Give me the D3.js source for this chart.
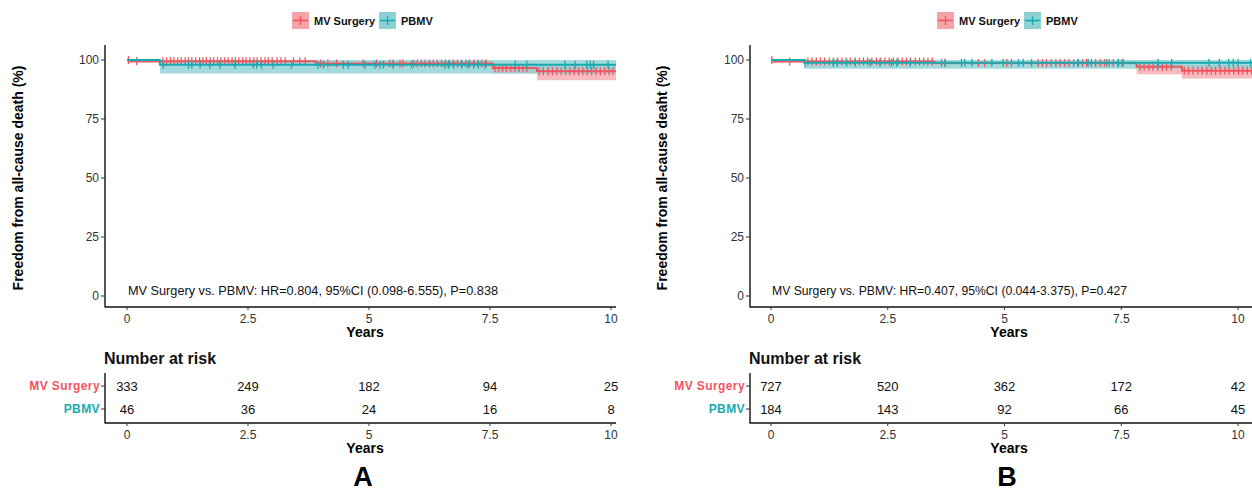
<!DOCTYPE html>
<html><head><meta charset="utf-8">
<script src="https://cdn.jsdelivr.net/npm/d3@7"></script>
<style>
body{margin:0;background:#fff;}
text{font-family:"Liberation Sans",Arial,Helvetica,sans-serif;}
</style></head>
<body><svg id="chart" width="1252" height="491"></svg>
<script>
// ---------- data ----------
const groups = ["MV Surgery", "PBMV"];
const xTicks = [0, 2.5, 5, 7.5, 10];
const xTickLabels = ["0", "2.5", "5", "7.5", "10"];
const yTicks = [0, 25, 50, 75, 100];

// Panel A
const aMvTime = [0, 0.05, 3.9, 7.56, 8.47];
const aMvSurv = [100, 99.5, 98.5, 96.6, 95.2];
const aMvLow  = [100, 98.8, 97.4, 94.3, 91.4];
const aMvHigh = [100, 100, 99.6, 98.8, 98.3];
const aPbTime = [0, 0.68];
const aPbSurv = [100, 98.0];
const aPbLow  = [99.0, 94.3];
const aPbHigh = [100, 100];
const aMvCensor = [0.03, 0.2, 0.74, 0.82, 0.9, 0.97, 1.05, 1.12, 1.2, 1.27, 1.34, 1.42, 1.5, 1.57, 1.64, 1.72, 1.79, 1.87, 1.94, 2.02, 2.09, 2.17, 2.24, 2.31, 2.39, 2.46, 2.54, 2.62, 2.69, 2.77, 2.85, 2.92, 3.0, 3.1, 3.18, 3.27, 3.44, 3.57, 3.68, 4.0, 4.15, 4.33, 4.88, 5.16, 5.43, 5.5, 5.64, 5.7, 5.92, 6.0, 6.08, 6.16, 6.25, 6.33, 6.41, 6.5, 6.58, 6.66, 6.74, 6.83, 6.91, 7.0, 7.08, 7.17, 7.25, 7.33, 7.42, 7.6, 7.68, 7.76, 7.84, 7.93, 8.01, 8.1, 8.18, 8.26, 8.52, 8.6, 8.7, 8.79, 8.88, 8.97, 9.06, 9.15, 9.24, 9.33, 9.42, 9.51, 9.6, 9.69, 9.78, 9.87, 9.96, 10.04];
const aPbCensor = [0.75, 1.27, 1.34, 1.51, 1.71, 1.92, 2.23, 2.61, 2.68, 2.78, 3.02, 3.4, 3.95, 4.06, 4.47, 4.57, 4.92, 5.12, 5.23, 5.3, 5.5, 5.88, 6.57, 6.64, 6.75, 6.92, 7.05, 7.16, 7.26, 7.4, 8.02, 8.26, 9.05, 9.26, 9.5, 9.57, 9.64, 9.94];
const aRiskMv = [333, 249, 182, 94, 25];
const aRiskPb = [46, 36, 24, 16, 8];
const aNote = "MV Surgery vs. PBMV: HR=0.804, 95%CI (0.098-6.555), P=0.838";
const aYLabel = "Freedom from all-cause death (%)";

// Panel B
const bMvTime = [0, 0.05, 3.5, 7.83, 8.8];
const bMvSurv = [100, 99.4, 98.7, 97.1, 95.4];
const bMvLow  = [100, 98.9, 97.9, 94.0, 92.2];
const bMvHigh = [100, 99.9, 99.4, 98.6, 97.9];
const bPbTime = [0, 0.71];
const bPbSurv = [100, 98.8];
const bPbLow  = [99.2, 96.3];
const bPbHigh = [100, 100];
const bMvCensor = [0.02, 0.4, 0.79, 0.88, 0.97, 1.06, 1.15, 1.25, 1.34, 1.43, 1.52, 1.61, 1.7, 1.8, 1.89, 1.98, 2.07, 2.16, 2.26, 2.35, 2.44, 2.53, 2.62, 2.72, 2.81, 2.9, 2.99, 3.09, 3.18, 3.27, 3.36, 3.45, 3.65, 3.73, 4.44, 4.58, 5.05, 5.15, 5.72, 5.81, 5.9, 6.0, 6.1, 6.19, 6.29, 6.38, 6.48, 6.57, 6.67, 6.76, 6.86, 6.95, 7.05, 7.14, 7.24, 7.33, 7.43, 7.52, 7.9, 7.99, 8.09, 8.18, 8.28, 8.38, 8.47, 8.57, 8.85, 8.94, 9.04, 9.14, 9.23, 9.33, 9.43, 9.52, 9.62, 9.72, 9.81, 9.91, 10.01, 10.1, 10.2, 10.29];
const bPbCensor = [0.73, 1.33, 1.41, 1.62, 1.8, 2.12, 2.33, 2.58, 2.69, 2.98, 3.73, 4.08, 4.15, 4.3, 4.73, 4.97, 5.3, 5.4, 5.58, 6.58, 6.79, 7.19, 7.44, 7.54, 8.29, 8.58, 9.38, 9.6, 9.8, 9.9, 10.0, 10.27];
const bRiskMv = [727, 520, 362, 172, 42];
const bRiskPb = [184, 143, 92, 66, 45];
const bNote = "MV Surgery vs. PBMV: HR=0.407, 95%CI (0.044-3.375), P=0.427";
const bYLabel = "Freedom from all-cause deaht (%)";

// ---------- style ----------
const RED = "#F2545F", TEAL = "#17ABB0";
const RED_BAND = "#F4A3A8", TEAL_BAND = "#8CD1D4";
const svg = d3.select("#chart");

function drawPanel(p) {
  const g = svg.append("g");
  const x = d3.scaleLinear().domain([0, 10]).range([p.x0, p.x10]);
  const y = d3.scaleLinear().domain([0, 100]).range([296, 60]);
  const axL = p.axisLeft, axR = p.axisRight;
  const clipId = "clip" + p.id;
  svg.append("clipPath").attr("id", clipId).append("rect")
    .attr("x", axL + 1).attr("y", 40).attr("width", axR - axL - 1).attr("height", 266);
  const plot = g.append("g").attr("clip-path", `url(#${clipId})`);
  const tEnd = x.invert(axR + 5);

  function series(times, s, lo, hi, censor, color, band, bandOp) {
    const rows = times.map((t, i) => ({t, s: s[i], lo: lo[i], hi: hi[i]}));
    rows.push({t: tEnd, s: s[s.length - 1], lo: lo[lo.length - 1], hi: hi[hi.length - 1]});
    plot.append("path").datum(rows)
      .attr("d", d3.area().curve(d3.curveStepAfter).x(d => x(d.t)).y0(d => y(d.lo)).y1(d => y(d.hi)))
      .attr("fill", band).attr("fill-opacity", bandOp);
    return {rows, color, censor};
  }
  function lineOf(sr) {
    plot.append("path").datum(sr.rows)
      .attr("d", d3.line().curve(d3.curveStepAfter).x(d => x(d.t)).y(d => y(d.s)))
      .attr("fill", "none").attr("stroke", sr.color).attr("stroke-width", 2);
    const bis = d3.bisector(d => d.t).right;
    plot.selectAll(null).data(sr.censor).enter().append("line")
      .attr("x1", d => x(d)).attr("x2", d => x(d))
      .attr("y1", d => y(sr.rows[Math.max(0, bis(sr.rows, d) - 1)].s) - 4)
      .attr("y2", d => y(sr.rows[Math.max(0, bis(sr.rows, d) - 1)].s) + 4)
      .attr("stroke", sr.color).attr("stroke-width", 1.3);
  }
  const sMv = series(p.mvT, p.mvS, p.mvLo, p.mvHi, p.mvC, RED, RED_BAND, 0.75);
  const sPb = series(p.pbT, p.pbS, p.pbLo, p.pbHi, p.pbC, TEAL, TEAL_BAND, 0.8);
  lineOf(sMv);
  lineOf(sPb);

  // axes main
  const ax = g.append("g").attr("stroke", "#111");
  ax.append("line").attr("x1", axL).attr("x2", axL).attr("y1", 45).attr("y2", 307.5).attr("stroke-width", 1.4);
  ax.append("line").attr("x1", axL).attr("x2", axR).attr("y1", 307).attr("y2", 307).attr("stroke-width", 1.4);
  yTicks.forEach(v => {
    g.append("line").attr("x1", axL - 4).attr("x2", axL).attr("y1", y(v)).attr("y2", y(v)).attr("stroke", "#333");
    g.append("text").attr("x", axL - 6).attr("y", y(v)).attr("dy", "0.35em").attr("text-anchor", "end")
      .attr("font-size", 12).attr("fill", "#333").text(v);
  });
  xTicks.forEach((v, i) => {
    g.append("line").attr("x1", x(v)).attr("x2", x(v)).attr("y1", 307).attr("y2", 310).attr("stroke", "#333");
    g.append("text").attr("x", x(v)).attr("y", 318.5).attr("dy", "0.35em").attr("text-anchor", "middle")
      .attr("font-size", 12).attr("fill", "#333").text(xTickLabels[i]);
  });
  g.append("text").attr("x", p.midX).attr("y", 332).attr("dy", "0.35em").attr("text-anchor", "middle")
    .attr("font-size", 14).attr("font-weight", "bold").text("Years");
  g.append("text").attr("transform", `translate(${p.yLabX},178) rotate(-90)`).attr("text-anchor", "middle")
    .attr("dy", "0.35em").attr("font-size", 14).attr("font-weight", "bold").text(p.yLab);
  g.append("text").attr("x", x(0) + 1).attr("y", 290).attr("dy", "0.35em").attr("font-size", 13)
    .attr("textLength", p.noteLen).attr("lengthAdjust", "spacingAndGlyphs").attr("fill", "#111").text(p.note);

  // legend
  const leg = g.append("g").attr("transform", `translate(${p.legX},20)`);
  [[RED, RED_BAND, groups[0], 0], [TEAL, TEAL_BAND, groups[1], 87]].forEach(([c, b, name, off]) => {
    leg.append("rect").attr("x", off).attr("y", -8).attr("width", 17).attr("height", 17).attr("fill", b);
    leg.append("line").attr("x1", off + 1).attr("x2", off + 16).attr("y1", 0.5).attr("y2", 0.5).attr("stroke", c).attr("stroke-width", 1.6);
    leg.append("line").attr("x1", off + 8.5).attr("x2", off + 8.5).attr("y1", -4).attr("y2", 5).attr("stroke", c).attr("stroke-width", 1.3);
    leg.append("text").attr("x", off + 22).attr("y", 1).attr("dy", "0.35em").attr("font-size", 11)
      .attr("font-weight", "bold").attr("fill", "#111").text(name);
  });

  // risk table
  g.append("text").attr("x", axL - 1).attr("y", 358).attr("dy", "0.35em").attr("font-size", 16)
    .attr("font-weight", "bold").attr("fill", "#111").text("Number at risk");
  g.append("line").attr("x1", axL).attr("x2", axL).attr("y1", 373).attr("y2", 423.5).attr("stroke", "#111").attr("stroke-width", 1.4);
  g.append("line").attr("x1", axL).attr("x2", axR).attr("y1", 423).attr("y2", 423).attr("stroke", "#111").attr("stroke-width", 1.4);
  const rowY = [386, 409];
  [[p.riskMv, RED], [p.riskPb, TEAL]].forEach(([vals, c], r) => {
    g.append("line").attr("x1", axL - 4).attr("x2", axL).attr("y1", rowY[r]).attr("y2", rowY[r]).attr("stroke", "#333");
    g.append("text").attr("x", axL - 5).attr("y", rowY[r]).attr("dy", "0.35em").attr("text-anchor", "end")
      .attr("font-size", 12).attr("font-weight", "bold").attr("fill", c).attr("letter-spacing", 0.4).text(groups[r]);
    vals.forEach((v, i) => {
      g.append("text").attr("x", x(xTicks[i])).attr("y", rowY[r]).attr("dy", "0.35em").attr("text-anchor", "middle")
        .attr("font-size", 13).attr("fill", "#111").text(v);
    });
  });
  xTicks.forEach((v, i) => {
    g.append("line").attr("x1", x(v)).attr("x2", x(v)).attr("y1", 423).attr("y2", 426).attr("stroke", "#333");
    g.append("text").attr("x", x(v)).attr("y", 434.5).attr("dy", "0.35em").attr("text-anchor", "middle")
      .attr("font-size", 12).attr("fill", "#333").text(xTickLabels[i]);
  });
  g.append("text").attr("x", p.midX).attr("y", 448).attr("dy", "0.35em").attr("text-anchor", "middle")
    .attr("font-size", 14).attr("font-weight", "bold").text("Years");
  g.append("text").attr("x", p.midX - 2).attr("y", 477).attr("dy", "0.35em").attr("text-anchor", "middle")
    .attr("font-size", 27).attr("font-weight", "bold").text(p.id);
}

drawPanel({id: "A", x0: 127, x10: 611, axisLeft: 105, axisRight: 616, midX: 365, yLabX: 18, legX: 292,
  mvT: aMvTime, mvS: aMvSurv, mvLo: aMvLow, mvHi: aMvHigh, mvC: aMvCensor,
  pbT: aPbTime, pbS: aPbSurv, pbLo: aPbLow, pbHi: aPbHigh, pbC: aPbCensor,
  riskMv: aRiskMv, riskPb: aRiskPb, note: aNote, noteLen: 370, yLab: aYLabel});
drawPanel({id: "B", x0: 771, x10: 1238, axisLeft: 750, axisRight: 1252, midX: 1009, yLabX: 662, legX: 937,
  mvT: bMvTime, mvS: bMvSurv, mvLo: bMvLow, mvHi: bMvHigh, mvC: bMvCensor,
  pbT: bPbTime, pbS: bPbSurv, pbLo: bPbLow, pbHi: bPbHigh, pbC: bPbCensor,
  riskMv: bRiskMv, riskPb: bRiskPb, note: bNote, noteLen: 355, yLab: bYLabel});
</script></body></html>
